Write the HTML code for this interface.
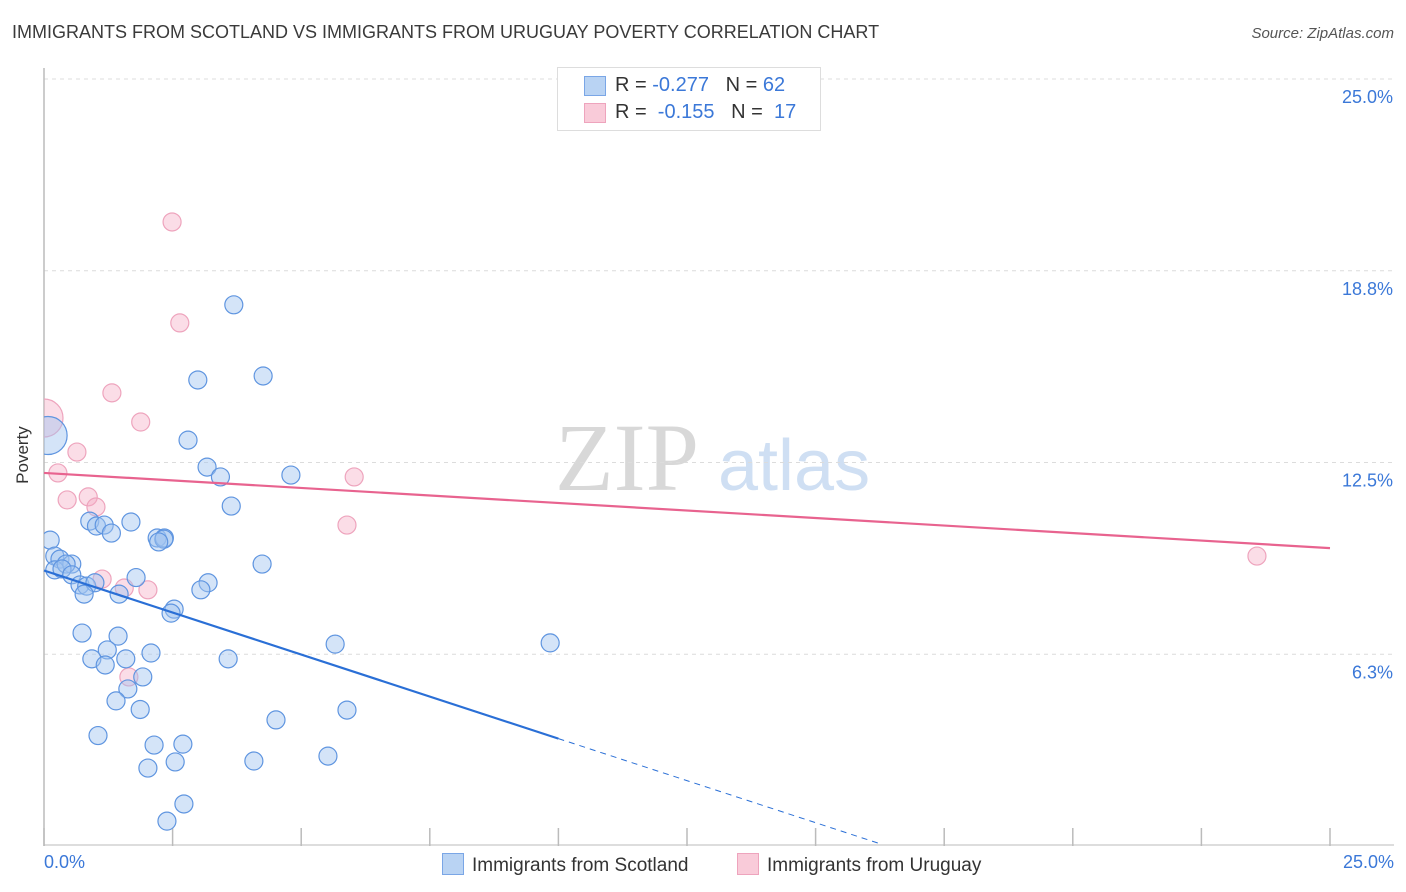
<!DOCTYPE html>
<html><head><meta charset="utf-8">
<style>
body{margin:0;background:#fff;font-family:"Liberation Sans",sans-serif;}
#wrap{position:relative;width:1406px;height:892px;overflow:hidden;}
.t{position:absolute;white-space:nowrap;}
</style></head>
<body>
<div id="wrap">
<div class="t" style="left:12px;top:22px;font-size:18px;color:#3a3a3a;">IMMIGRANTS FROM SCOTLAND VS IMMIGRANTS FROM URUGUAY POVERTY CORRELATION CHART</div>
<div class="t" style="right:12px;top:25px;font-size:15px;color:#555;font-style:italic;">Source: ZipAtlas.com</div>
<svg id="svg" width="1406" height="892" style="position:absolute;left:0;top:0"></svg>
</div>
<script>
const xTicks=[0,2.5,5,7.5,10,12.5,15,17.5,20,22.5,25];
const yTickVals=[6.25,12.5,18.75,25];
const yTickLabels=["6.3%","12.5%","18.8%","25.0%"];
const scotX=[3.69,2.99,4.26,2.80,3.17,4.80,3.43,3.64,0.89,1.02,1.17,1.69,1.31,2.20,2.34,2.33,2.23,0.12,0.21,4.24,0.31,0.54,0.21,0.43,0.35,0.54,1.79,3.19,0.70,0.83,0.99,3.05,0.78,1.46,2.53,2.47,5.66,9.84,0.74,1.44,1.23,0.93,1.59,2.08,3.58,1.19,1.92,1.63,1.40,1.87,5.89,4.51,1.05,2.14,2.70,2.02,2.55,4.08,5.52,2.72,2.39,0.08];
const scotY=[17.64,15.19,15.32,13.23,12.35,12.09,12.03,11.08,10.59,10.43,10.46,10.56,10.20,10.04,10.04,10.00,9.91,9.97,9.45,9.19,9.35,9.19,9.00,9.19,9.03,8.84,8.75,8.58,8.51,8.47,8.58,8.35,8.21,8.21,7.72,7.59,6.58,6.62,6.94,6.84,6.39,6.10,6.10,6.29,6.10,5.90,5.51,5.12,4.73,4.45,4.43,4.11,3.60,3.29,3.32,2.54,2.74,2.77,2.93,1.37,0.81,13.38];
const scotR=[9,9,9,9,9,9,9,9,9,9,9,9,9,9,9,9,9,9,9,9,9,9,9,9,9,9,9,9,9,9,9,9,9,9,9,9,9,9,9,9,9,9,9,9,9,9,9,9,9,9,9,9,9,9,9,9,9,9,9,9,9,19];
const uruX=[2.49,2.64,1.32,1.88,0,0.64,0.27,6.03,0.45,0.86,1.01,5.89,23.58,1.13,1.56,2.02,1.65];
const uruY=[20.34,17.05,14.77,13.82,13.95,12.84,12.16,12.03,11.28,11.38,11.05,10.46,9.45,8.70,8.41,8.35,5.51];
const uruR=[9,9,9,9,19,9,9,9,9,9,9,9,9,9,9,9,9];
const scotTrend=[0,8.98,10,3.50];
const scotTrendEnd=16.25;
const uruTrend=[0,12.16,25,9.71];

const X0=44,X1=1330,Y0=846,Y25=79;
const xs=v=>X0+(v/25)*(X1-X0);
const ys=v=>Y0-(v/25)*(Y0-Y25);
const svg=document.getElementById('svg');
const NS='http://www.w3.org/2000/svg';
function mk(tag,attrs){const e=document.createElementNS(NS,tag);for(const k in attrs)e.setAttribute(k,attrs[k]);svg.appendChild(e);return e;}

// clip
const defs=mk('defs',{});
const cp=document.createElementNS(NS,'clipPath');cp.setAttribute('id','pc');
const cr=document.createElementNS(NS,'rect');cr.setAttribute('x',44);cr.setAttribute('y',60);cr.setAttribute('width',1360);cr.setAttribute('height',786);
cp.appendChild(cr);defs.appendChild(cp);

// watermark
let w=mk('text',{x:555,y:490,'font-size':96,'font-family':'Liberation Serif,serif',fill:'#d8d8d8'});w.textContent='ZIP';


let w2=mk('text',{x:718,y:490,'font-size':72,'font-family':'Liberation Sans,sans-serif',fill:'#cfdff3'});w2.textContent='atlas';



// gridlines + y labels
yTickVals.forEach((v,i)=>{
  const g=mk('line',{x1:44,x2:1394,y1:ys(v),y2:ys(v),stroke:'#dcdcdc','stroke-dasharray':'4,4'});
  
  
  const t=mk('text',{x:1393,y:ys(v)+24,'text-anchor':'end','font-size':18,fill:'#3b78d8'});
  t.textContent=yTickLabels[i];
  
  
});
// axes
let ax=mk('line',{x1:44,x2:44,y1:68,y2:846,stroke:'#bbb','stroke-width':1.5});


let bx=mk('line',{x1:44,x2:1394,y1:845,y2:845,stroke:'#bbb','stroke-width':1});


xTicks.forEach(v=>{
  const l=mk('line',{x1:xs(v),x2:xs(v),y1:828,y2:846,stroke:'#bbb','stroke-width':1.5});
  
  
});

// points
const gp=mk('g',{'clip-path':'url(#pc)'});
function dot(x,y,r,fill,stroke,name){
  const c=document.createElementNS(NS,'circle');
  c.setAttribute('cx',xs(x));c.setAttribute('cy',ys(y));c.setAttribute('r',r);
  c.setAttribute('fill',fill);c.setAttribute('stroke',stroke);c.setAttribute('stroke-width',1.2);
  
  
  gp.appendChild(c);
}
uruX.forEach((x,i)=>dot(x,uruY[i],uruR[i],'rgba(246,170,195,0.4)','#eea4bd','point-uruguay'));
scotX.forEach((x,i)=>dot(x,scotY[i],scotR[i],'rgba(160,196,240,0.45)','#5f95e0','point-scotland'));

// trend lines
let tl=mk('line',{x1:xs(uruTrend[0]),y1:ys(uruTrend[1]),x2:xs(uruTrend[2]),y2:ys(uruTrend[3]),stroke:'#e8638f','stroke-width':2.2});


const slope=(scotTrend[3]-scotTrend[1])/(scotTrend[2]-scotTrend[0]);
let sl=mk('line',{x1:xs(scotTrend[0]),y1:ys(scotTrend[1]),x2:xs(scotTrend[2]),y2:ys(scotTrend[3]),stroke:'#2a6fd6','stroke-width':2.2});


let sd=mk('line',{x1:xs(scotTrend[2]),y1:ys(scotTrend[3]),x2:xs(scotTrendEnd),y2:ys(scotTrend[1]+slope*scotTrendEnd),stroke:'#2a6fd6','stroke-width':1,'stroke-dasharray':'6,5'});


</script>

<div class="t" style="left:44px;top:852px;font-size:18px;color:#3b78d8;">0.0%</div>
<div class="t" style="right:12px;top:852px;font-size:18px;color:#3b78d8;">25.0%</div>
<div class="t" style="left:-6px;top:445px;font-size:17px;color:#333;transform:rotate(-90deg);">Poverty</div>

<div style="position:absolute;left:557px;top:67px;width:262px;height:62px;border:1px solid #ddd;background:#fff;font-size:20px;">
  <div style="position:absolute;left:26px;top:8px;width:20px;height:18px;background:#b9d3f3;border:1px solid #7aa6e6;"></div>
  <div class="t" style="left:57px;top:6px;color:#333;">R = <span style="color:#3b78d8">-0.277</span>&nbsp;&nbsp;&nbsp;N = <span style="color:#3b78d8">62</span></div>
  <div style="position:absolute;left:26px;top:35px;width:20px;height:18px;background:#f9cbd9;border:1px solid #eea4bd;"></div>
  <div class="t" style="left:57px;top:33px;color:#333;">R = &nbsp;<span style="color:#3b78d8">-0.155</span>&nbsp;&nbsp;&nbsp;N = &nbsp;<span style="color:#3b78d8">17</span></div>
</div>

<div style="position:absolute;left:442px;top:853px;font-size:19px;color:#333;">
  <span style="display:inline-block;width:20px;height:20px;background:#b9d3f3;border:1px solid #7aa6e6;vertical-align:-4px;margin-right:8px;"></span>Immigrants from Scotland</div>
<div style="position:absolute;left:737px;top:853px;font-size:19px;color:#333;">
  <span style="display:inline-block;width:20px;height:20px;background:#f9cbd9;border:1px solid #eea4bd;vertical-align:-4px;margin-right:8px;"></span>Immigrants from Uruguay</div>
</body></html>
